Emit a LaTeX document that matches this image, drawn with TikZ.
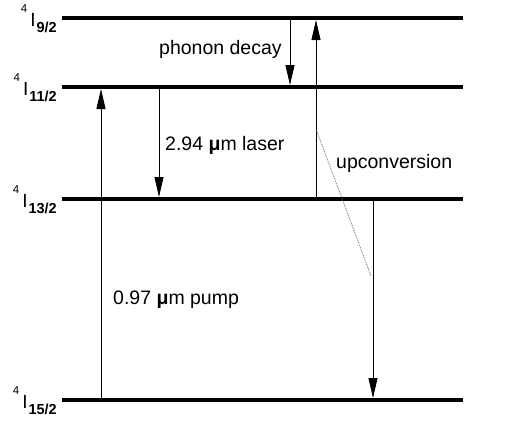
\documentclass[tikz,border=0pt]{standalone}
\usepackage{fontspec}
\setmainfont{Liberation Sans}
\usetikzlibrary{arrows.meta}

\newcommand{\lvname}[1]{\raisebox{14pt}{\fontsize{11.5}{13}\selectfont 4}\kern3pt I\kern1pt\raisebox{-6pt}{\fontsize{14.5}{16}\selectfont\bfseries #1}}

\begin{document}
\begin{tikzpicture}[x=1pt,y=-1pt,
  level/.style={line width=4pt},
  trans/.style={line width=0.8pt,-{Triangle[length=20pt,width=9pt]}},
  txt/.style={font=\fontsize{19.5}{22}\selectfont,anchor=west,inner sep=0pt},
  lvtxt/.style={font=\fontsize{19}{21}\selectfont,anchor=base east,inner sep=0pt}]
\useasboundingbox (0,0) rectangle (505,421);
% levels
\draw[level] (62,18) -- (463,18);
\draw[level] (62,87) -- (463,87);
\draw[level] (62,199) -- (463,199);
\draw[level] (62,400) -- (463,400);
\node[lvtxt] (n92) at (57,26) {\lvname{9/2}};
\node[lvtxt] (n112) at (57,95) {\lvname{11/2}};
\node[lvtxt] (n132) at (57,207) {\lvname{13/2}};
\node[lvtxt] (n152) at (57,408) {\lvname{15/2}};
% arrow ends
\coordinate (pmpA) at (101,400);
\coordinate (pmpB) at (101,89);
\coordinate (lasA) at (159,87);
\coordinate (lasB) at (159,197);
\coordinate (phnA) at (290,18);
\coordinate (phnB) at (290,85);
\coordinate (upcA) at (316,199);
\coordinate (upcB) at (316,20);
\coordinate (dwnA) at (373,199);
\coordinate (dwnB) at (373,398);
\coordinate (dotA) at (316,129);
\coordinate (dotB) at (371,276);
% transitions
\draw[trans] (pmpA) -- (pmpB);
\draw[trans] (lasA) -- (lasB);
\draw[trans] (phnA) -- (phnB);
\draw[trans] (upcA) -- (upcB);
\draw[trans] (dwnA) -- (dwnB);
\draw[black!60,line width=0.8pt,densely dotted] (dotA) -- (dotB);
% labels
\node[txt] (tphn) at (159,49) {phonon decay};
\node[txt] (tlas) at (165,145) {2.94 {\bfseries μ}m laser};
\node[txt] (tupc) at (336,163) {upconversion};
\node[txt] (tpmp) at (113,300) {0.97 {\bfseries μ}m pump};
\end{tikzpicture}
\end{document}
